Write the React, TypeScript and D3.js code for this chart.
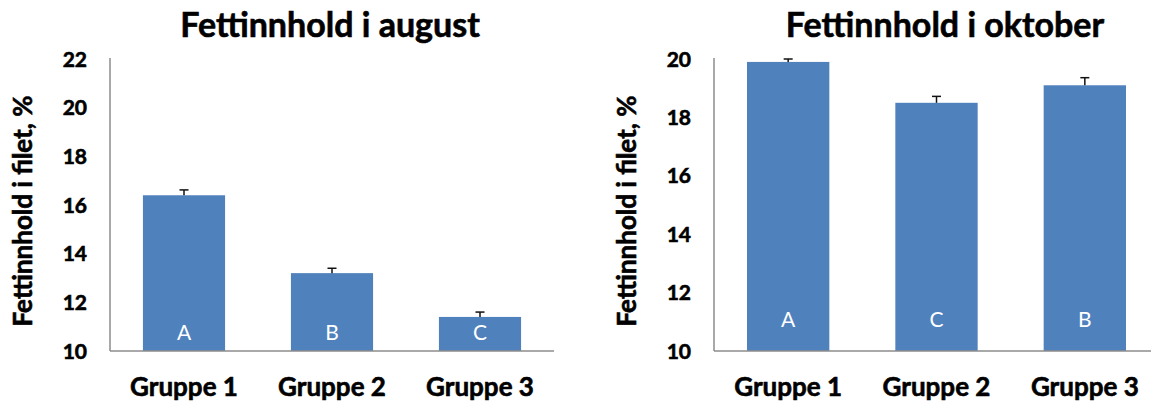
import * as d3 from 'd3';

const GROUPS = ['Gruppe 1', 'Gruppe 2', 'Gruppe 3'];

const AUGUST_VALUES = [16.4, 13.2, 11.4];
const AUGUST_ERRORS = [0.22, 0.2, 0.2];
const AUGUST_LETTERS = ['A', 'B', 'C'];
const AUGUST_TICKS = [10, 12, 14, 16, 18, 20, 22];

const OKTOBER_VALUES = [19.9, 18.5, 19.1];
const OKTOBER_ERRORS = [0.1, 0.22, 0.26];
const OKTOBER_LETTERS = ['A', 'C', 'B'];
const OKTOBER_TICKS = [10, 12, 14, 16, 18, 20];

const FONT = 'Lato, "Open Sans", sans-serif';
const BAR = '#4f81bd';
const AXIS = '#8c8c8c';

interface PanelProps {
  title: string;
  values: number[];
  errors: number[];
  letters: string[];
  ticks: number[];
  x0: number;
  x1: number;
  titleX: number;
  labelX: number;
  letterY: number;
}

function Panel({ title, values, errors, letters, ticks, x0, x1, titleX, labelX, letterY }: PanelProps) {
  const top = 59, bottom = 351;
  const y = d3.scaleLinear().domain([ticks[0], ticks[ticks.length - 1]]).range([bottom, top]);
  const x = d3.scaleBand().domain(GROUPS).range([x0, x1]).paddingInner(0.445).paddingOuter(0.2225);
  const bw = x.bandwidth();
  // heavier strokes to get closer to the original bold face
  const heavy = { stroke: '#000', strokeWidth: 0.6 };

  return (
    <g fontFamily={FONT}>
      <text x={titleX} y={37} textAnchor="middle" fontSize={34} fontWeight="bold" fill="#000" {...heavy}>{title}</text>

      {/* y axis labels */}
      {ticks.map((t) => (
        <text key={t} x={x0 - 23} y={y(t)} dy="0.36em" textAnchor="end" fontSize={21} fontWeight="bold" fill="#000" {...heavy}>{t}</text>
      ))}
      <text transform={`translate(${labelX},${(top + bottom) / 2 + 6}) rotate(-90)`} textAnchor="middle" dy="0.36em"
        fontSize={26} fontWeight="bold" fill="#000" {...heavy}>Fettinnhold i filet, %</text>

      {/* bars */}
      {GROUPS.map((g, i) => {
        const bx = x(g)!;
        const cx = bx + bw / 2;
        const yTop = y(values[i]);
        const yErr = y(values[i] + errors[i]);
        return (
          <g key={g}>
            <rect x={bx} y={yTop} width={bw} height={bottom - yTop} fill={BAR} />
            <line x1={cx} x2={cx} y1={yTop} y2={yErr} stroke="#111" strokeWidth={1.5} />
            <line x1={cx - 4.5} x2={cx + 4.5} y1={yErr} y2={yErr} stroke="#111" strokeWidth={1.5} />
            <text x={cx} y={letterY} dy="0.36em" textAnchor="middle" fontSize={21} fill="#fff">{letters[i]}</text>
            <text x={cx} y={396} textAnchor="middle" fontSize={26} fontWeight="bold" fill="#000" {...heavy}>{g}</text>
          </g>
        );
      })}

      {/* axes */}
      <line x1={x0} x2={x0} y1={top - 1} y2={bottom} stroke={AXIS} strokeWidth={1.5} />
      <line x1={x0} x2={x1} y1={bottom} y2={bottom} stroke={AXIS} strokeWidth={1.5} />
    </g>
  );
}

export default function App() {
  return (
    <svg width={1151} height={401} style={{ position: 'absolute', left: 0, top: 0, background: '#fff' }}>
      <Panel title="Fettinnhold i august" values={AUGUST_VALUES} errors={AUGUST_ERRORS} letters={AUGUST_LETTERS}
        ticks={AUGUST_TICKS} x0={110} x1={554} titleX={330} labelX={23} letterY={332} />
      <Panel title="Fettinnhold i oktober" values={OKTOBER_VALUES} errors={OKTOBER_ERRORS} letters={OKTOBER_LETTERS}
        ticks={OKTOBER_TICKS} x0={714} x1={1159} titleX={945} labelX={627} letterY={319} />
    </svg>
  );
}
